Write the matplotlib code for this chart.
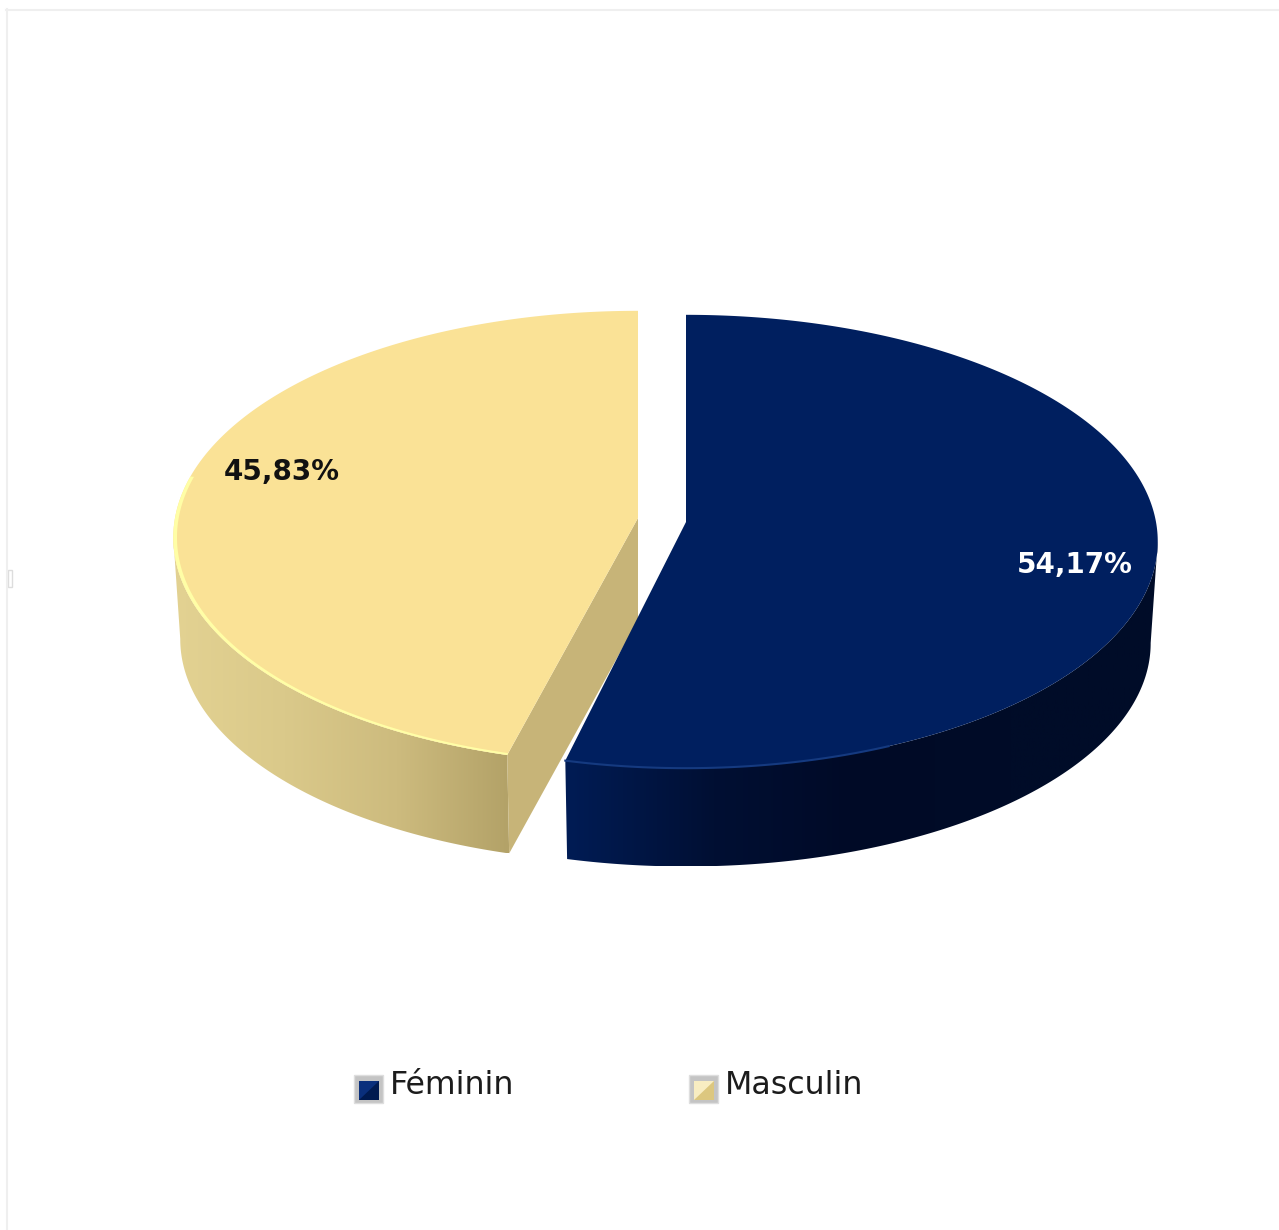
import numpy as np
import matplotlib
matplotlib.use("Agg")
import matplotlib.pyplot as plt
from matplotlib.colors import LinearSegmentedColormap
from matplotlib.patches import Polygon, Rectangle

# Data
categories = ["Féminin", "Masculin"]
shares = [54.17, 45.83]
top_colors = ["#001f5f", "#fae296"]
side_colors = [["#001c55", "#000f33", "#000a26", "#000c28", "#000c28"],
               ["#e3d292", "#dac98a", "#cdbb7e", "#b3a268"]]
swatch_light = ["#0a2f7c", "#f8edc2"]
swatch_dark = ["#001a50", "#dcc77f"]
cut_color = "#c7b478"
rim_colors = ["#153a80", "#fffea6"]
text_colors = ["white", "#111111"]

# Pie geometry, in pixels
apex = [(686, 522), (638, 518)]
radius_x = [470, 463]
ry, persp = 225, 0.086
depth, bottom_scale = 102, 0.985
view_twist = np.radians(1.4)

fig = plt.figure(figsize=(12.79, 12.30), dpi=100)
ax = fig.add_axes([0, 0, 1, 1])
ax.set_xlim(0, 1279)
ax.set_ylim(1230, 0)
ax.axis("off")


def rim(center, rx, theta, scale=1.0, drop=0):
    # theta runs clockwise from 12 o'clock
    s, c = np.sin(theta), np.cos(theta)
    x = center[0] + scale * rx * s / (1 + persp * c)
    y = center[1] + drop - scale * ry * c / (1 + persp * c)
    return np.column_stack([x, y])


def gradient_fill(poly, colors, zorder):
    xmin, ymin = poly.min(axis=0)
    xmax, ymax = poly.max(axis=0)
    cmap = LinearSegmentedColormap.from_list("side", colors)
    patch = Polygon(poly, closed=True, facecolor="none", edgecolor="none")
    ax.add_patch(patch)
    img = ax.imshow(np.linspace(0, 1, 256)[None, :], cmap=cmap, aspect="auto",
                    extent=[xmin, xmax, ymax, ymin], zorder=zorder)
    img.set_clip_path(patch)


# Slice angles come from the shares
fractions = np.array(shares) / sum(shares)
stops = np.concatenate([[0], np.cumsum(fractions)]) * 2 * np.pi
split = stops[1]

# Masculine is drawn first, the navy slice overlaps its cut face
c, rx = apex[1], radius_x[1]
cut = np.vstack([[c], rim(c, rx, np.array([split])),
                 rim(c, rx, np.array([split]), bottom_scale, depth),
                 [[c[0], c[1] + depth]]])
ax.add_patch(Polygon(cut, closed=True, facecolor=cut_color, edgecolor="none", zorder=2))
t = np.linspace(split, 1.473 * np.pi, 200)
side = np.vstack([rim(c, rx, t), rim(c, rx, t[::-1], bottom_scale, depth)])
gradient_fill(side, side_colors[1], 1)
t = np.linspace(split, stops[2], 300)
top = np.vstack([[c], rim(c, rx, t)])
ax.add_patch(Polygon(top, closed=True, facecolor=top_colors[1], edgecolor="none", zorder=3))
# highlight along the front edge, inside the top face
t = np.linspace(split, 1.56 * np.pi, 200)
edge = np.vstack([rim(c, rx, t), rim(c, rx, t[::-1], 0.992)])
ax.add_patch(Polygon(edge, closed=True, facecolor=rim_colors[1], edgecolor="none", zorder=4))

# Feminin
c, rx = apex[0], radius_x[0]
end = split - view_twist
t = np.linspace(0.527 * np.pi, end, 200)
side = np.vstack([rim(c, rx, t), rim(c, rx, t[::-1], bottom_scale, depth)])
gradient_fill(side, side_colors[0], 5)
t = np.linspace(stops[0], end, 300)
top = np.vstack([[c], rim(c, rx, t)])
ax.add_patch(Polygon(top, closed=True, facecolor=top_colors[0], edgecolor="none", zorder=6))
edge = rim(c, rx, np.linspace(0.87 * np.pi, end, 100))
ax.plot(edge[:, 0], edge[:, 1], color=rim_colors[0], lw=1.5, zorder=7)

# Value labels
label_pos = [(1075, 565), (282, 472)]
for value, pos, col in zip(shares, label_pos, text_colors):
    ax.text(pos[0], pos[1], f"{value:.2f}".replace(".", ",") + "%", color=col,
            fontsize=20, fontweight="bold", ha="center", va="center", zorder=8)

# Legend
legend_x = [354, 689]
for i, (name, x0) in enumerate(zip(categories, legend_x)):
    ax.add_patch(Rectangle((x0, 1075), 29, 28, facecolor="#c4c4c4", edgecolor="#dedede", lw=1, zorder=8))
    ax.add_patch(Rectangle((x0 + 5, 1081), 20, 19, facecolor=swatch_dark[i], edgecolor="none", zorder=9))
    tri = [(x0 + 5, 1081), (x0 + 25, 1081), (x0 + 5, 1100)]
    ax.add_patch(Polygon(tri, closed=True, facecolor=swatch_light[i], edgecolor="none", zorder=9))
    ax.text(x0 + 36, 1085, name, color="#1c1c1c", fontsize=22.8, ha="left", va="center", zorder=9)

# Frame left by the original page
ax.plot([6, 1279], [9.5, 9.5], color="#efefef", lw=1.5)
ax.plot([6.5, 6.5], [9, 1230], color="#efefef", lw=1.5)
ax.add_patch(Rectangle((8, 570), 4, 17, facecolor="white", edgecolor="#dddddd", lw=1))

fig.savefig("out.png", dpi=100)
